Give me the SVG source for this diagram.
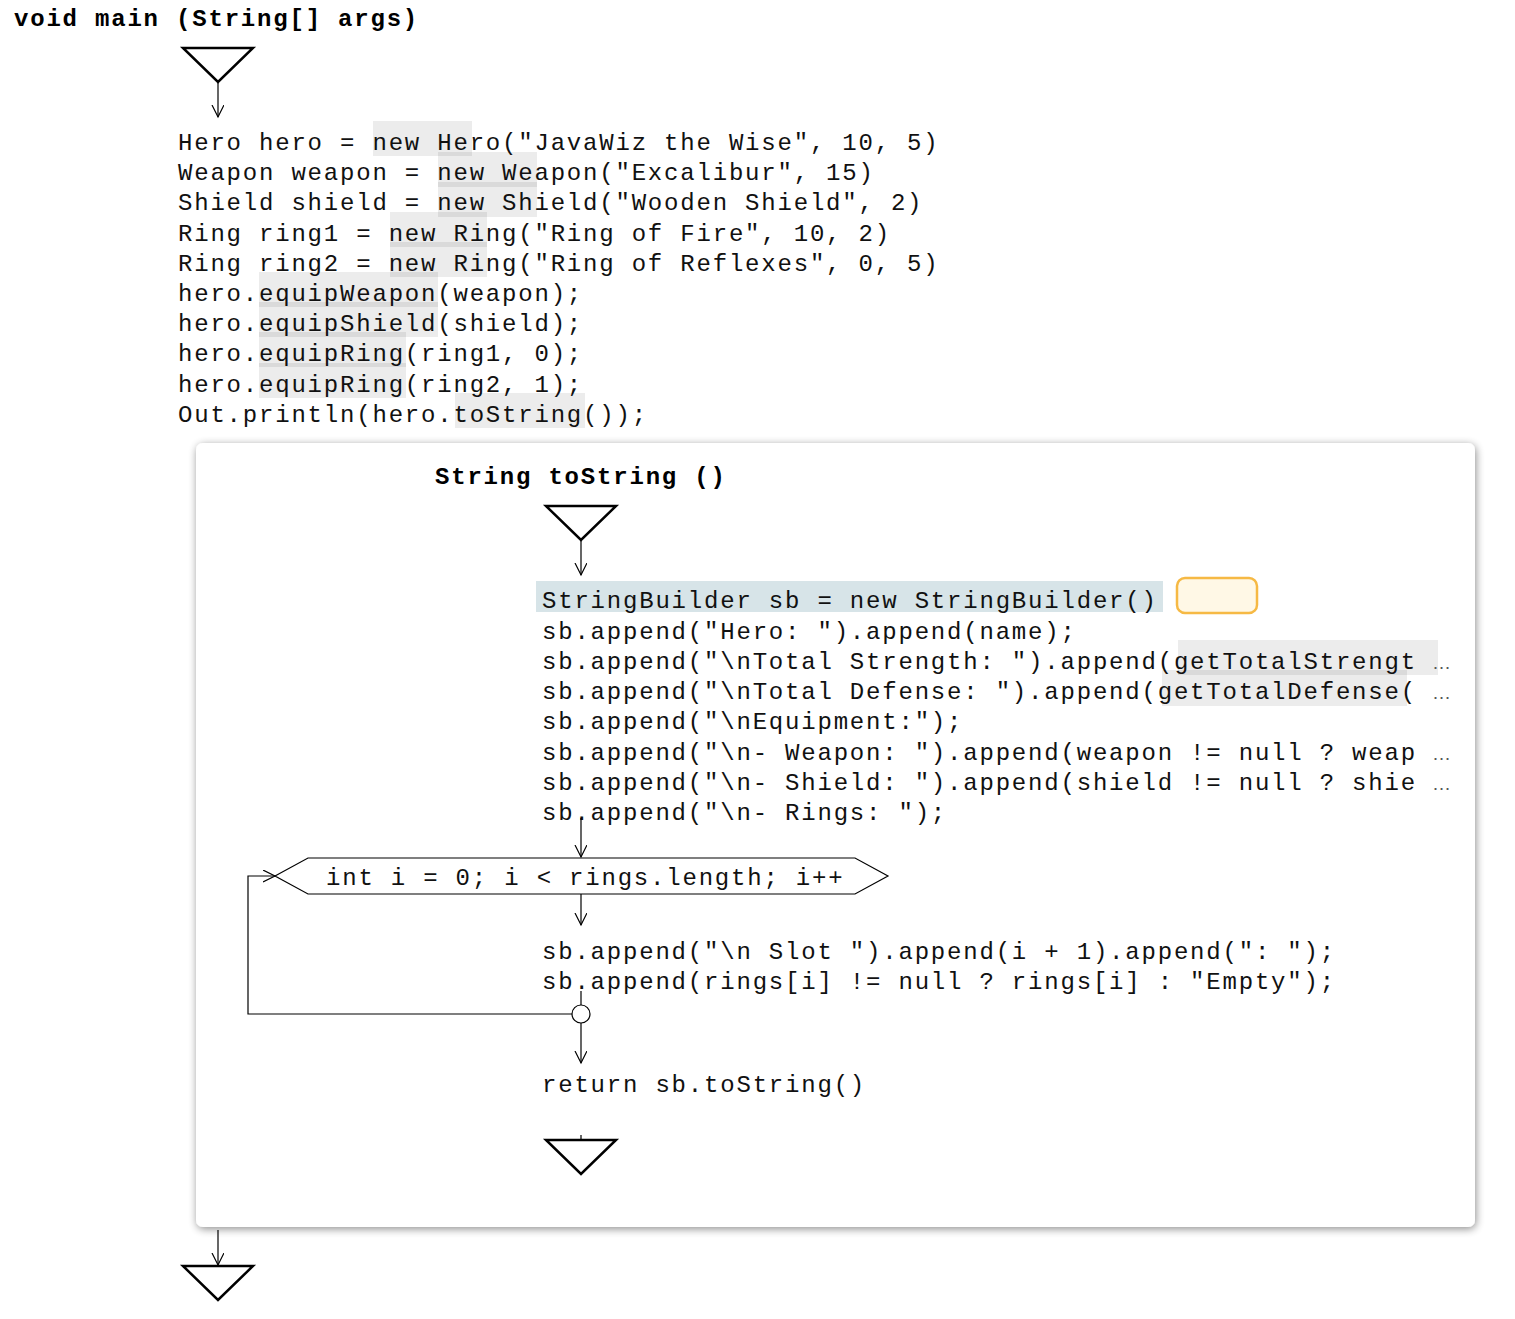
<svg xmlns="http://www.w3.org/2000/svg" width="1515" height="1319" viewBox="0 0 1515 1319">
<defs>
<style>
.code{font-family:"Liberation Mono","Courier New",monospace;font-size:24px;letter-spacing:1.8px;fill:#111}
.title{font-family:"Liberation Mono","Courier New",monospace;font-size:24px;font-weight:bold;letter-spacing:1.8px;fill:#000}
.hl{fill:#000;fill-opacity:0.075}
.tri{fill:#fff;stroke:#000;stroke-width:2.5}
.ln{fill:none;stroke:#000;stroke-width:1.2}
.ell{font-family:"Liberation Sans",Arial,sans-serif;fill:#555;font-size:19px}
</style>
<marker id="arr" markerWidth="14" markerHeight="14" refX="12" refY="6" orient="auto" markerUnits="userSpaceOnUse">
<path d="M0,0 L12,6 L0,12" fill="none" stroke="#000" stroke-width="1.2"/>
</marker>
<filter id="shadow" x="-5%" y="-5%" width="110%" height="110%">
<feGaussianBlur in="SourceAlpha" stdDeviation="4"/>
<feOffset dx="1" dy="2"/>
<feComponentTransfer><feFuncA type="linear" slope="0.45"/></feComponentTransfer>
<feMerge><feMergeNode/><feMergeNode in="SourceGraphic"/></feMerge>
</filter>
</defs>
<rect width="1515" height="1319" fill="#fff"/>

<g id="main-title">
<text class="title" x="14" y="26">void main (String[] args)</text>
</g>
<g id="main-start">
<polygon class="tri" points="183,48 253,48 218,82"/>
</g>

<g id="main-code">
<rect class="hl" x="373" y="121" width="99" height="35"/>
<rect class="hl" x="438" y="152" width="99" height="35"/>
<rect class="hl" x="438" y="182" width="99" height="35"/>
<rect class="hl" x="390" y="212" width="97" height="35"/>
<rect class="hl" x="390" y="242" width="97" height="35"/>
<rect class="hl" x="259" y="272" width="179" height="35"/>
<rect class="hl" x="259" y="302" width="179" height="35"/>
<rect class="hl" x="259" y="332" width="147" height="35"/>
<rect class="hl" x="259" y="363" width="147" height="35"/>
<rect class="hl" x="455" y="393" width="130" height="35"/>
<text class="code" x="178" y="149.5">Hero hero = new Hero("JavaWiz the Wise", 10, 5)</text>
<text class="code" x="178" y="180">Weapon weapon = new Weapon("Excalibur", 15)</text>
<text class="code" x="178" y="210">Shield shield = new Shield("Wooden Shield", 2)</text>
<text class="code" x="178" y="240.5">Ring ring1 = new Ring("Ring of Fire", 10, 2)</text>
<text class="code" x="178" y="270.5">Ring ring2 = new Ring("Ring of Reflexes", 0, 5)</text>
<text class="code" x="178" y="301">hero.equipWeapon(weapon);</text>
<text class="code" x="178" y="331">hero.equipShield(shield);</text>
<text class="code" x="178" y="361">hero.equipRing(ring1, 0);</text>
<text class="code" x="178" y="391.5">hero.equipRing(ring2, 1);</text>
<text class="code" x="178" y="421.5">Out.println(hero.toString());</text>
</g>

<g id="toString-box">
<rect x="196" y="443" width="1279" height="784" rx="7" fill="#fff" filter="url(#shadow)"/>
<text class="title" x="435" y="484">String toString ()</text>
</g>

<g id="toString-start">
<polygon class="tri" points="546,506 616,506 581,540"/>
</g>

<g id="toString-body">
<rect x="536" y="581" width="627" height="31" fill="#d7e4e8"/>
<rect class="hl" x="1178" y="640" width="260" height="35"/>
<rect class="hl" x="1162" y="670" width="245" height="36"/>
<text class="code" x="542" y="608">StringBuilder sb = new StringBuilder()</text>
<text class="code" x="542" y="638.5">sb.append("Hero: ").append(name);</text>
<text class="code" x="542" y="668.5">sb.append("\nTotal Strength: ").append(getTotalStrengt</text>
<text class="ell" x="1432" y="668.5">…</text>
<text class="code" x="542" y="698.5">sb.append("\nTotal Defense: ").append(getTotalDefense(</text>
<text class="ell" x="1432" y="698.5">…</text>
<text class="code" x="542" y="729">sb.append("\nEquipment:");</text>
<text class="code" x="542" y="759.5">sb.append("\n- Weapon: ").append(weapon != null ? weap</text>
<text class="ell" x="1432" y="759.5">…</text>
<text class="code" x="542" y="789.5">sb.append("\n- Shield: ").append(shield != null ? shie</text>
<text class="ell" x="1432" y="789.5">…</text>
<text class="code" x="542" y="820">sb.append("\n- Rings: ");</text>
</g>

<g id="comment-box">
<rect x="1177" y="578" width="80" height="35" rx="8" fill="#fff8e6" stroke="#f6b944" stroke-width="2.5"/>
</g>

<g id="loop-header">
<polygon points="275,876 308,858 855,858 888,876 855,894 308,894" fill="#fff" stroke="#000" stroke-width="1.2"/>
<text class="code" x="326" y="884.5">int i = 0; i &lt; rings.length; i++</text>
</g>

<g id="loop-body">
<text class="code" x="542" y="959">sb.append("\n Slot ").append(i + 1).append(": ");</text>
<text class="code" x="542" y="989">sb.append(rings[i] != null ? rings[i] : "Empty");</text>
</g>

<g id="loop-join">
<circle cx="581" cy="1014" r="9" fill="#fff" stroke="#000" stroke-width="1.2"/>
</g>

<g id="return-stmt">
<text class="code" x="542" y="1091.5">return sb.toString()</text>
</g>

<g id="toString-end">
<polygon class="tri" points="546,1140 616,1140 581,1174"/>
</g>

<g id="main-end">
<polygon class="tri" points="183,1266 253,1266 218,1300"/>
</g>

<g id="connectors">
<line class="ln" x1="218" y1="83" x2="218" y2="117" marker-end="url(#arr)"/>
<line class="ln" x1="581" y1="541" x2="581" y2="575" marker-end="url(#arr)"/>
<line class="ln" x1="581" y1="818" x2="581" y2="857" marker-end="url(#arr)"/>
<line class="ln" x1="581" y1="894" x2="581" y2="925" marker-end="url(#arr)"/>
<line class="ln" x1="581" y1="991" x2="581" y2="1005"/>
<line class="ln" x1="581" y1="1023" x2="581" y2="1063" marker-end="url(#arr)"/>
<polyline class="ln" points="572,1014 248,1014 248,876 275,876" marker-end="url(#arr)"/>
<line class="ln" x1="581" y1="1135" x2="581" y2="1140"/>
<line class="ln" x1="218" y1="1230" x2="218" y2="1265" marker-end="url(#arr)"/>
</g>
</svg>
